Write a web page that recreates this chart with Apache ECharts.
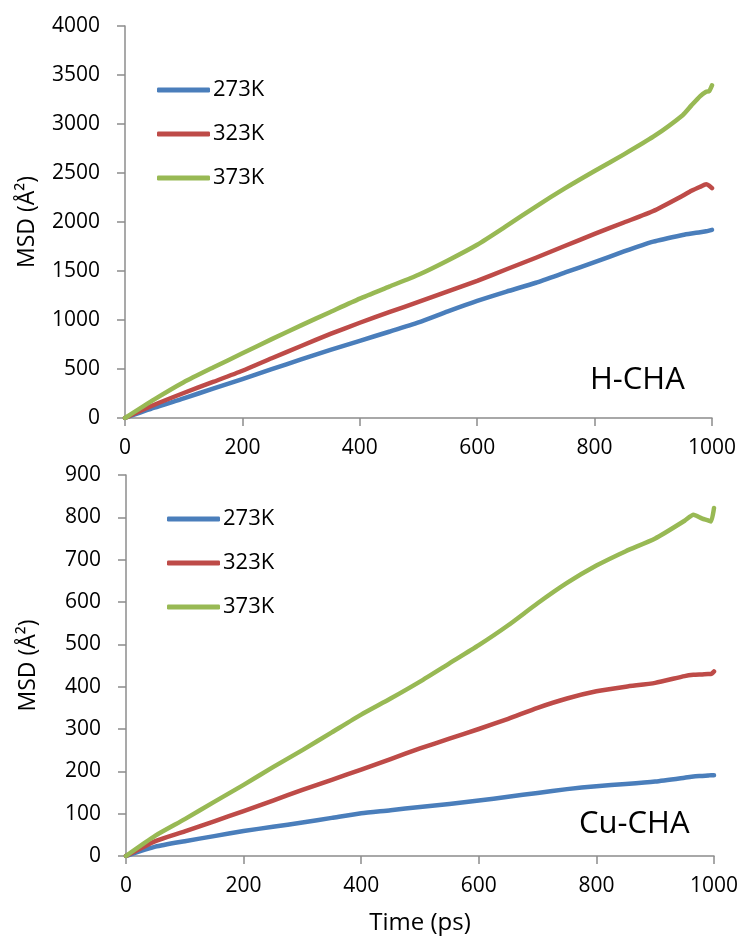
<!DOCTYPE html>
<html>
<head>
<meta charset="utf-8">
<script src="https://cdn.jsdelivr.net/npm/echarts@6/dist/echarts.min.js"></script>
<style>
html,body{margin:0;padding:0;background:#fff;}
#chart{width:744px;height:936px;}
</style>
</head>
<body>
<div id="chart"></div>
<script>
// Time points (ps)
var time = [0, 50, 100, 150, 200, 250, 300, 350, 400, 450, 500, 550, 600, 650, 700, 750, 800, 850, 900, 950, 965, 980, 990, 995, 1000];
var seriesNames = ['273K', '323K', '373K'];

// H-CHA MSD (Å²)
var hcha273 = [0, 105, 200, 300, 396, 498, 598, 695, 788, 880, 975, 1088, 1195, 1290, 1380, 1485, 1590, 1700, 1800, 1868, 1883, 1895, 1905, 1912, 1920];
var hcha323 = [0, 135, 255, 368, 482, 610, 735, 858, 972, 1080, 1185, 1292, 1400, 1518, 1635, 1758, 1878, 1995, 2112, 2268, 2318, 2360, 2385, 2372, 2345];
var hcha373 = [0, 190, 365, 515, 660, 805, 945, 1082, 1218, 1340, 1462, 1608, 1768, 1960, 2158, 2345, 2520, 2690, 2870, 3090, 3190, 3285, 3330, 3335, 3395];

// Cu-CHA MSD (Å²)
var cucha273 = [0, 22, 35, 47, 59, 69, 79, 90, 101, 108, 116, 123, 131, 140, 149, 158, 165, 170, 176, 185, 188, 189, 190, 191, 191];
var cucha323 = [0, 35, 58, 82, 106, 131, 156, 180, 204, 229, 254, 277, 300, 324, 350, 372, 389, 400, 409, 425, 428, 429, 430, 430, 436];
var cucha373 = [0, 48, 87, 128, 168, 210, 250, 292, 334, 372, 412, 455, 498, 545, 597, 645, 686, 720, 750, 792, 806, 797, 793, 790, 822];

// Axis ticks
var xTicks = [0, 200, 400, 600, 800, 1000];
var yTicksTop = [0, 500, 1000, 1500, 2000, 2500, 3000, 3500, 4000];
var yTicksBottom = [0, 100, 200, 300, 400, 500, 600, 700, 800, 900];

var colors = ['#4a7ebb', '#be4b48', '#98b954'];
var FONT = 'Open Sans';

function pairs(vals) {
  return time.map(function (t, i) { return [t, vals[i]]; });
}
function plain(v) { return String(v); }

function xAxisCfg(idx, name) {
  return {
    type: 'value', gridIndex: idx,
    min: xTicks[0], max: xTicks[xTicks.length - 1], interval: xTicks[1] - xTicks[0],
    name: name || '', nameLocation: 'middle', nameGap: 55,
    nameTextStyle: {fontFamily: FONT, fontSize: 24, color: '#000'},
    axisLine: {show: true, lineStyle: {color: '#8c8c8c', width: 1.5}},
    axisTick: {show: true, inside: false, length: 8, lineStyle: {color: '#8c8c8c', width: 1.5}},
    axisLabel: {fontFamily: FONT, fontSize: 21, color: '#000', margin: 20, formatter: plain},
    splitLine: {show: false}
  };
}
function yAxisCfg(idx, ticks) {
  return {
    type: 'value', gridIndex: idx,
    min: ticks[0], max: ticks[ticks.length - 1], interval: ticks[1] - ticks[0],
    name: 'MSD (Å²)', nameLocation: 'middle', nameGap: 86,
    nameTextStyle: {fontFamily: FONT, fontSize: 23, color: '#000'},
    axisLine: {show: true, lineStyle: {color: '#8c8c8c', width: 1.5}},
    axisTick: {show: true, inside: false, length: 8, lineStyle: {color: '#8c8c8c', width: 1.5}},
    axisLabel: {fontFamily: FONT, fontSize: 21, color: '#000', margin: 25, formatter: plain},
    splitLine: {show: false}
  };
}
function lineSeries(name, vals, gi, ci) {
  return {
    name: name, type: 'line', xAxisIndex: gi, yAxisIndex: gi,
    data: pairs(vals), showSymbol: false, symbol: 'none', smooth: 0.2,
    lineStyle: {color: colors[ci], width: 4.5, cap: 'round', join: 'round'},
    itemStyle: {color: colors[ci]},
    animation: false
  };
}
function legendCfg(left, top) {
  return {
    orient: 'vertical', left: left, top: top, padding: 0,
    data: seriesNames.map(function (n) { return {name: n, icon: 'roundRect'}; }),
    itemWidth: 53, itemHeight: 5, itemGap: 20,
    textStyle: {fontFamily: FONT, fontSize: 22, color: '#000', lineHeight: 24, padding: [0, 0, 0, -2]},
    selectedMode: false
  };
}

var chart = echarts.init(document.getElementById('chart'), null, {renderer: 'canvas'});
chart.setOption({
  backgroundColor: '#fff',
  animation: false,
  title: [
    {text: 'H-CHA', left: 585, top: 360, textStyle: {fontFamily: FONT, fontSize: 31, fontWeight: 'normal', color: '#000'}},
    {text: 'Cu-CHA', left: 574, top: 804, textStyle: {fontFamily: FONT, fontSize: 31, fontWeight: 'normal', color: '#000'}}
  ],
  legend: [legendCfg(157, 78), legendCfg(167, 507)],
  grid: [
    {left: 125, right: 32, top: 26, height: 392},
    {left: 126, right: 30, top: 475, height: 383}
  ],
  xAxis: [xAxisCfg(0), xAxisCfg(1, 'Time (ps)')],
  yAxis: [yAxisCfg(0, yTicksTop), yAxisCfg(1, yTicksBottom)],
  series: [
    lineSeries('273K', hcha273, 0, 0),
    lineSeries('323K', hcha323, 0, 1),
    lineSeries('373K', hcha373, 0, 2),
    lineSeries('273K', cucha273, 1, 0),
    lineSeries('323K', cucha323, 1, 1),
    lineSeries('373K', cucha373, 1, 2)
  ]
});
</script>
</body>
</html>
